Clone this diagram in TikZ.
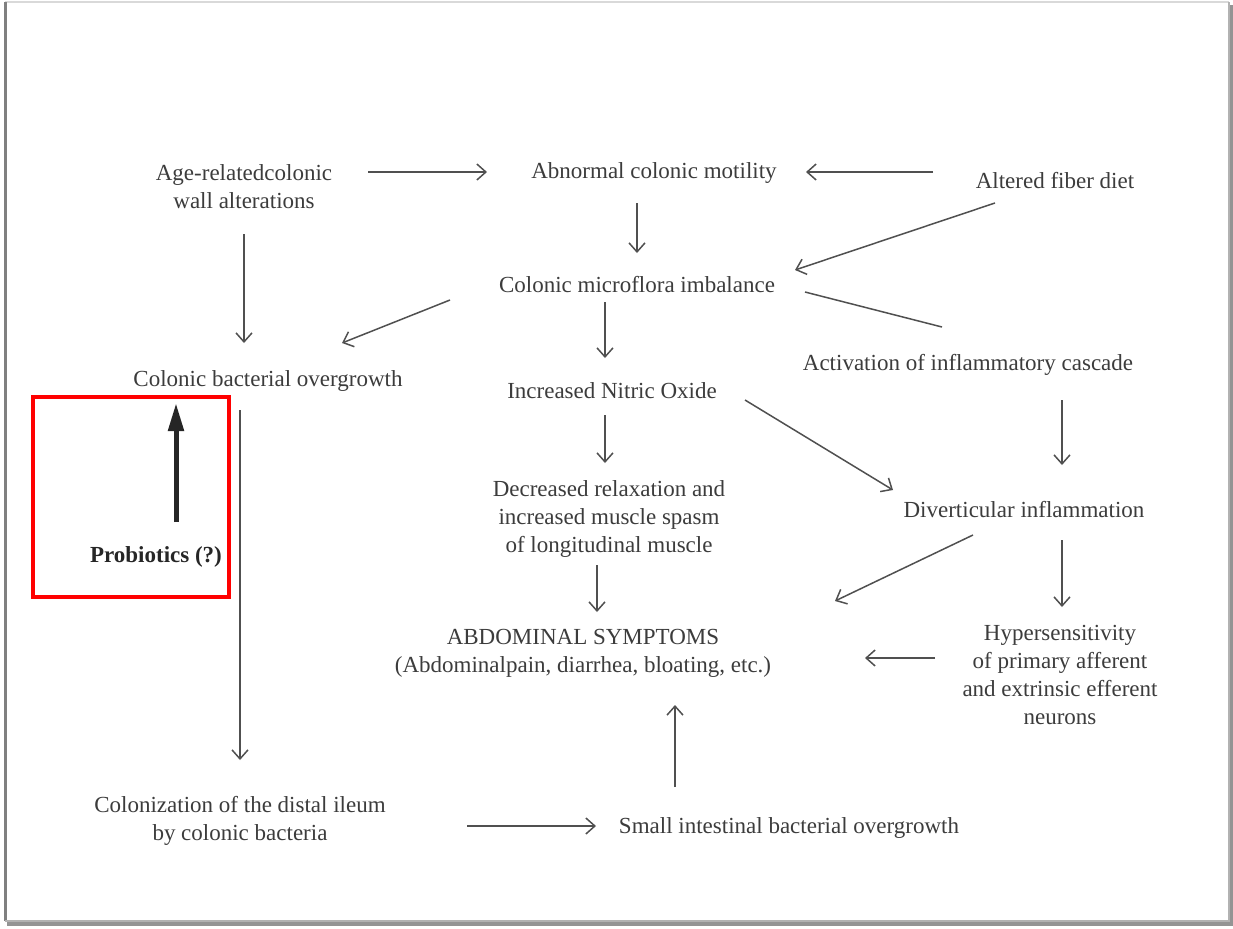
\documentclass[tikz,border=0pt]{standalone}
\usepackage{fontspec}
\setmainfont{Liberation Serif}
\usetikzlibrary{arrows.meta}
\definecolor{txt}{HTML}{3C3C3C}
\definecolor{ln}{HTML}{505050}
\tikzset{
  lbl/.style={align=center, text=txt, inner sep=0pt, font=\fontsize{11.5}{14}\selectfont},
  arr/.style={draw=ln, line width=0.75pt, -{Straight Barb[length=4.5pt,width=8pt]}},
  plain/.style={draw=ln, line width=0.75pt},
  bigarr/.style={draw=black!85, line width=2.5pt, -{Triangle[length=14pt,width=7.5pt]}},
}
\begin{document}
\begin{tikzpicture}[x=0.5pt,y=-0.5pt]
\useasboundingbox (0,0) rectangle (1233,928);
\fill[white] (0,0) rectangle (1233,928);
% card with shadow
\fill[black!42] (7,5) rectangle (1233,926);
\fill[white] (5,2) rectangle (1229,921);
\draw[black!15, line width=1pt] (5,2) -- (1229,2);
\draw[black!50, line width=1.5pt] (5,2) -- (5,921);
\draw[black!30, line width=1pt] (1229,2) -- (1229,921) -- (5,921);

% nodes
\node[lbl] (age) at (244,187) {Age-relatedcolonic\\wall alterations};
\node[lbl] (motility) at (654,173) {Abnormal colonic motility};
\node[lbl] (fiber) at (1055,181) {Altered fiber diet};
\node[lbl] (imbalance) at (637,285) {Colonic microflora imbalance};
\node[lbl] (overgrowth) at (268,381) {Colonic bacterial overgrowth};
\node[lbl] (nitric) at (612,391) {Increased Nitric Oxide};
\node[lbl] (cascade) at (968,365) {Activation of inflammatory cascade};
\node[lbl] (relax) at (609,519) {Decreased relaxation and\\increased muscle spasm\\of longitudinal muscle};
\node[lbl] (divert) at (1024,510) {Diverticular inflammation};
\node[lbl] (symptoms) at (583,653) {ABDOMINAL SYMPTOMS\\(Abdominalpain, diarrhea, bloating, etc.)};
\node[lbl] (hyper) at (1060,675) {Hypersensitivity\\of primary afferent\\and extrinsic efferent\\neurons};
\node[lbl] (colon) at (240,821) {Colonization of the distal ileum\\by colonic bacteria};
\node[lbl] (sibo) at (789,828) {Small intestinal bacterial overgrowth};
\node[lbl, text=black!85, font=\fontsize{11.5}{14}\selectfont\bfseries] (probio) at (156,557) {Probiotics (?)};

% connectors
\draw[arr] ([shift={(124,-15)}]age.center) -- ([shift={(-167,-1)}]motility.center);
\draw[arr] ([shift={(-122,-9)}]fiber.center) -- ([shift={(152,-1)}]motility.center);
\draw[arr] ([shift={(-17,30)}]motility.center) -- ([shift={(0,-32)}]imbalance.center);
\draw[arr] ([shift={(-60,22)}]fiber.center) -- ([shift={(158,-15)}]imbalance.center);
\draw[arr] ([shift={(0,47)}]age.center) -- ([shift={(-24,-38)}]overgrowth.center);
\draw[arr] ([shift={(-187,15)}]imbalance.center) -- ([shift={(74,-38)}]overgrowth.center);
\draw[arr] ([shift={(-32,17)}]imbalance.center) -- ([shift={(-7,-33)}]nitric.center);
\draw[plain] ([shift={(168,7)}]imbalance.center) -- ([shift={(-26,-38)}]cascade.center);
\draw[arr] ([shift={(94,35)}]cascade.center) -- ([shift={(38,-45)}]divert.center);
\draw[arr] ([shift={(133,9)}]nitric.center) -- ([shift={(-131,-20)}]divert.center);
\draw[arr] ([shift={(-7,24)}]nitric.center) -- ([shift={(-4,-56)}]relax.center);
\draw[arr] ([shift={(-28,29)}]overgrowth.center) -- ([shift={(0,-61)}]colon.center);
\draw[arr] ([shift={(-12,46)}]relax.center) -- ([shift={(14,-41)}]symptoms.center);
\draw[arr] ([shift={(-51,25)}]divert.center) -- ([shift={(252,-52)}]symptoms.center);
\draw[arr] ([shift={(38,30)}]divert.center) -- ([shift={(2,-68)}]hyper.center);
\draw[arr] ([shift={(-125,-17)}]hyper.center) -- ([shift={(282,5)}]symptoms.center);
\draw[arr] ([shift={(-114,-41)}]sibo.center) -- ([shift={(92,52)}]symptoms.center);
\draw[arr] ([shift={(227,5)}]colon.center) -- ([shift={(-193,-2)}]sibo.center);
\draw[bigarr] ([shift={(20,-35)}]probio.center) -- ([shift={(-92,22)}]overgrowth.center);

% highlight box
\draw[red, line width=2pt] (33,397) rectangle (229,597);
\end{tikzpicture}
\end{document}
